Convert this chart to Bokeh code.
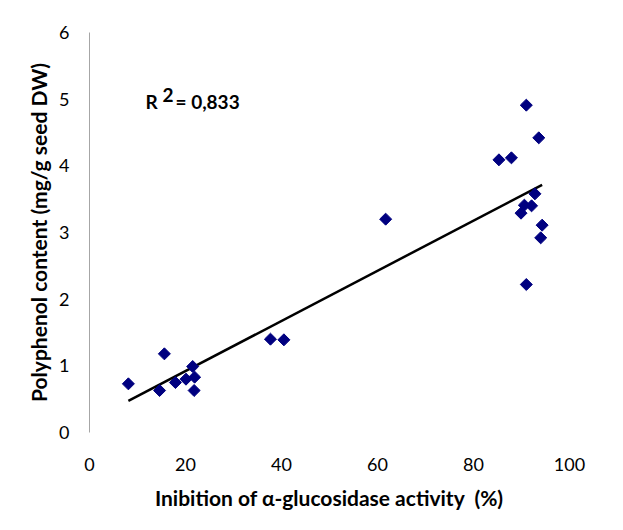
import numpy as np
from bokeh.plotting import figure
from bokeh.models import ColumnDataSource, Range1d, FixedTicker, Label
from bokeh.embed import file_html
from bokeh.resources import INLINE

# Data
inhibition = [8.1, 14.6, 15.6, 17.9, 20.1, 21.5, 21.9, 21.8, 37.7, 40.5,
              61.7, 85.3, 87.9, 91.0, 93.6, 92.8, 90.6, 92.1, 89.9, 94.3, 94.0, 91.0]
polyphenol = [0.73, 0.63, 1.18, 0.75, 0.80, 0.99, 0.83, 0.63, 1.40, 1.39,
              3.20, 4.09, 4.12, 4.91, 4.42, 3.58, 3.41, 3.40, 3.29, 3.11, 2.92, 2.22]
x_ticks = [0, 20, 40, 60, 80, 100]
y_ticks = [0, 1, 2, 3, 4, 5, 6]
r2_text = "= 0,833"

FONT = "Lato"

p = figure(width=623, height=530, output_backend="svg", toolbar_location=None,
           x_range=Range1d(0, 100), y_range=Range1d(0, 6),
           min_border_left=89, min_border_right=54, min_border_top=32, min_border_bottom=98)
p.outline_line_color = None
p.grid.grid_line_color = None
p.background_fill_color = "white"
p.border_fill_color = "white"

# x axis
p.xaxis.ticker = FixedTicker(ticks=x_ticks)
p.xaxis.axis_line_color = None
p.xaxis.major_tick_line_color = None
p.xaxis.minor_tick_line_color = None
p.xaxis.major_label_standoff = 19
p.xaxis.major_label_text_font = FONT
p.xaxis.major_label_text_font_size = "18px"
p.xaxis.major_label_text_color = "black"
p.xaxis.axis_label = "Inibition of \u03b1-glucosidase activity \u00a0(%)"
p.xaxis.axis_label_text_font = FONT
p.xaxis.axis_label_text_font_size = "21px"
p.xaxis.axis_label_text_font_style = "bold"
p.xaxis.axis_label_text_color = "black"
p.xaxis.axis_label_standoff = 11

# y axis
p.yaxis.ticker = FixedTicker(ticks=y_ticks)
p.yaxis.axis_line_color = "#a6a6a6"
p.yaxis.major_tick_line_color = None
p.yaxis.minor_tick_line_color = None
p.yaxis.major_label_standoff = 14
p.yaxis.major_label_text_font = FONT
p.yaxis.major_label_text_font_size = "18px"
p.yaxis.major_label_text_color = "black"
p.yaxis.axis_label = "Polyphenol content (mg/g seed DW)"
p.yaxis.axis_label_text_font = FONT
p.yaxis.axis_label_text_font_size = "21px"
p.yaxis.axis_label_text_font_style = "bold"
p.yaxis.axis_label_text_color = "black"
p.yaxis.axis_label_standoff = 5

# linear trendline fitted from the data
xs = np.array(inhibition)
ys = np.array(polyphenol)
slope, intercept = np.polyfit(xs, ys, 1)
x_line = [xs.min(), xs.max()]
y_line = [slope * v + intercept for v in x_line]
p.line(x_line, y_line, line_color="black", line_width=2.5)

src = ColumnDataSource(dict(x=inhibition, y=polyphenol))
p.scatter("x", "y", source=src, marker="square", size=8.5, angle=np.pi / 4,
          fill_color="#000080", line_color="#000080")

# R^2 label
p.add_layout(Label(x=56, y=331, x_units="screen", y_units="screen", text="R",
                   text_font=FONT, text_font_size="19px", text_font_style="bold",
                   text_color="black", text_baseline="alphabetic"))
p.add_layout(Label(x=73, y=338, x_units="screen", y_units="screen", text="2",
                   text_font=FONT, text_font_size="19px", text_font_style="bold",
                   text_color="black", text_baseline="alphabetic"))
p.add_layout(Label(x=86, y=331, x_units="screen", y_units="screen", text=r2_text,
                   text_font=FONT, text_font_size="19px", text_font_style="bold",
                   text_color="black", text_baseline="alphabetic"))

open("out.html", "w").write(file_html(p, INLINE))
